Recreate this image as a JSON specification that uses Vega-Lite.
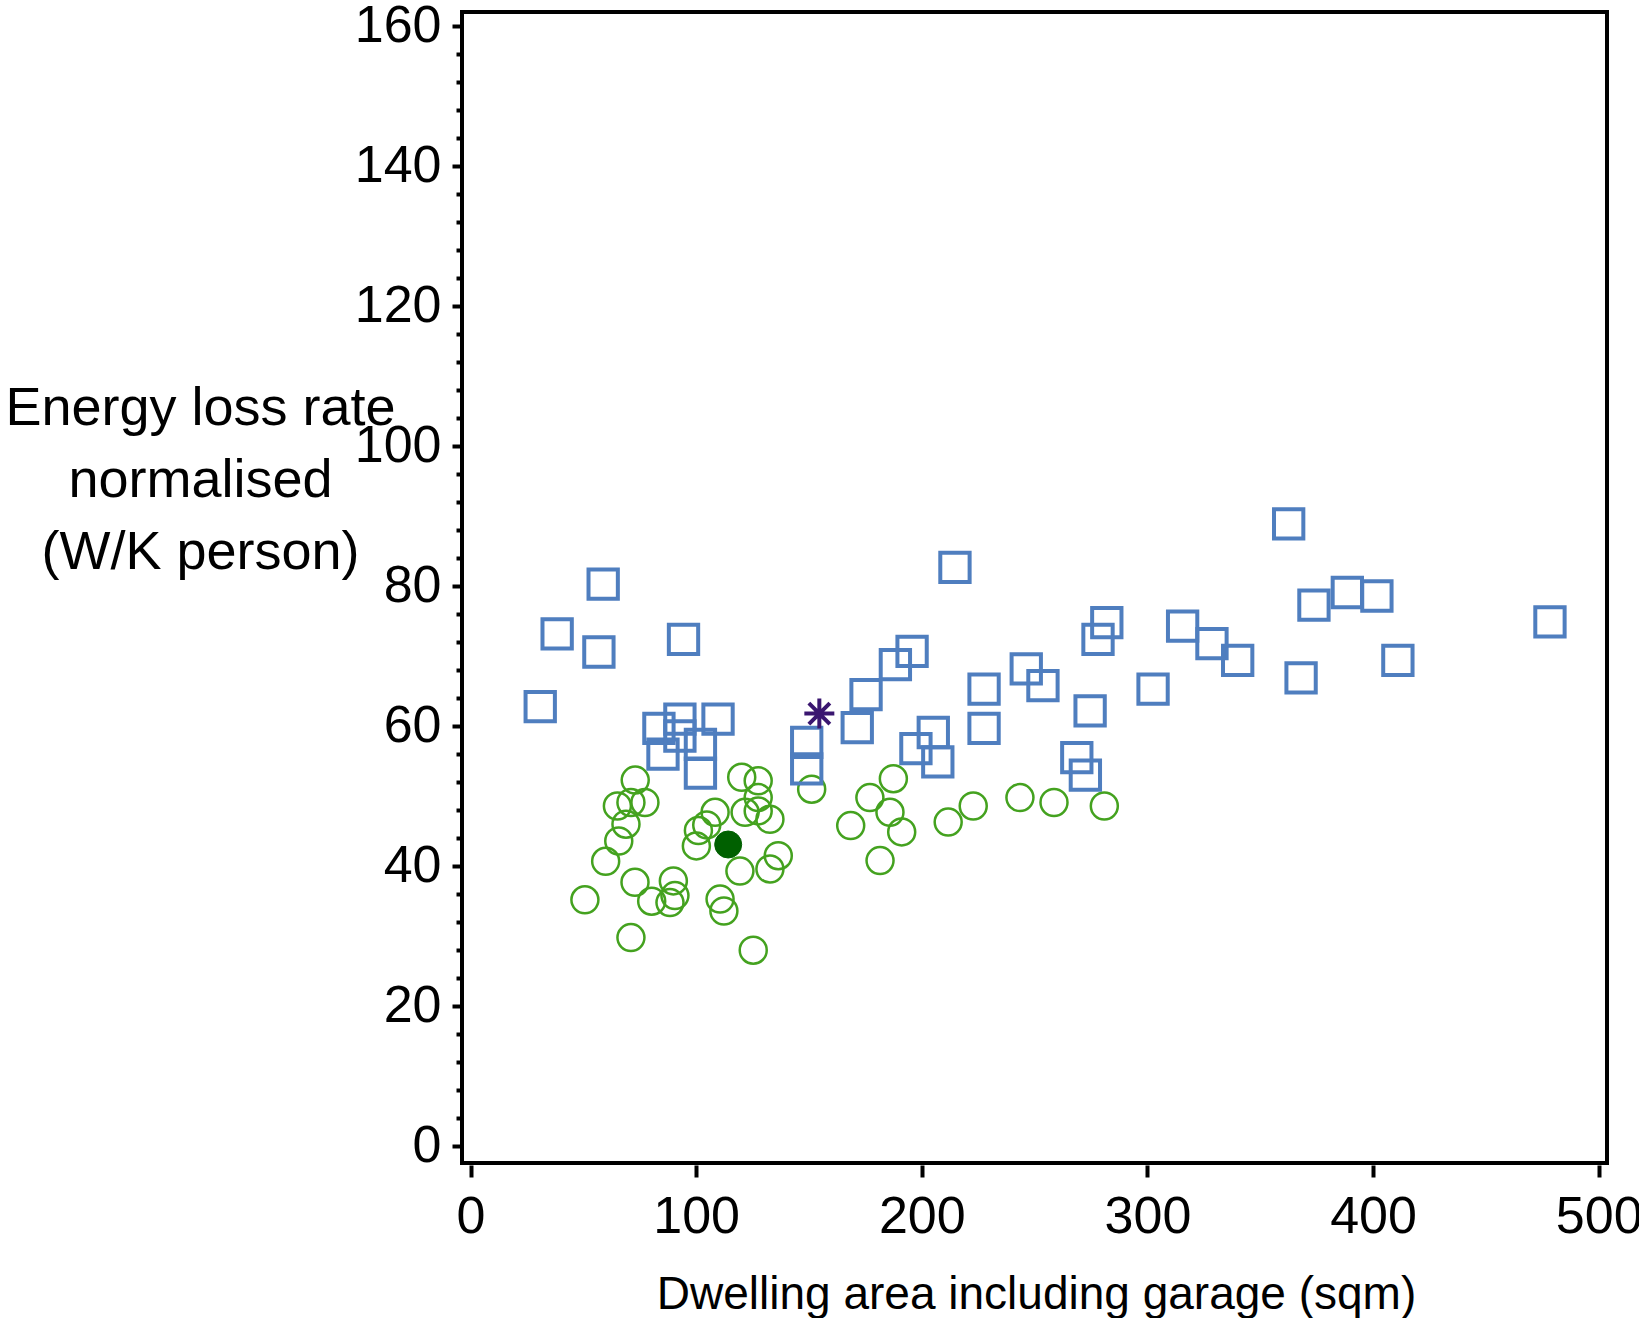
{
  "$schema": "https://vega.github.io/schema/vega-lite/v6.json",
  "autosize": {"type": "none"},
  "width": 1145,
  "height": 1151,
  "padding": {"left": 462, "top": 12, "right": 32, "bottom": 155},
  "background": "white",
  "config": {
    "font": "Liberation Sans",
    "view": {"stroke": "black", "strokeWidth": 4}
  },
  "datasets": {
    "squares": [
      {"area": 30.9, "loss": 62.7}, {"area": 38.4, "loss": 73.1}, {"area": 58.8, "loss": 80.2},
      {"area": 56.9, "loss": 70.5}, {"area": 94.4, "loss": 72.3}, {"area": 83.5, "loss": 59.6},
      {"area": 85.3, "loss": 55.9}, {"area": 92.8, "loss": 60.9}, {"area": 92.8, "loss": 58.5},
      {"area": 101.9, "loss": 57.3}, {"area": 101.9, "loss": 53.2}, {"area": 109.7, "loss": 60.9},
      {"area": 149.0, "loss": 57.6}, {"area": 149.0, "loss": 53.8}, {"area": 171.4, "loss": 59.7},
      {"area": 175.3, "loss": 64.4}, {"area": 188.3, "loss": 68.7}, {"area": 195.7, "loss": 70.6},
      {"area": 197.4, "loss": 56.7}, {"area": 205.1, "loss": 59.0}, {"area": 207.1, "loss": 54.8},
      {"area": 214.7, "loss": 82.6}, {"area": 227.6, "loss": 65.2}, {"area": 227.6, "loss": 59.6},
      {"area": 246.3, "loss": 68.1}, {"area": 253.7, "loss": 65.7}, {"area": 268.7, "loss": 55.4},
      {"area": 272.5, "loss": 52.9}, {"area": 274.6, "loss": 62.1}, {"area": 278.1, "loss": 72.3},
      {"area": 282.0, "loss": 74.7}, {"area": 302.5, "loss": 65.2}, {"area": 315.6, "loss": 74.2},
      {"area": 328.6, "loss": 71.7}, {"area": 340.0, "loss": 69.3}, {"area": 362.6, "loss": 88.8},
      {"area": 368.1, "loss": 66.8}, {"area": 373.8, "loss": 77.2}, {"area": 388.6, "loss": 79.0},
      {"area": 401.7, "loss": 78.5}, {"area": 411.0, "loss": 69.3}, {"area": 478.4, "loss": 74.8}
    ],
    "circles": [
      {"area": 73.0, "loss": 52.2}, {"area": 65.1, "loss": 48.5}, {"area": 71.1, "loss": 49.0},
      {"area": 77.3, "loss": 49.0}, {"area": 68.9, "loss": 45.9}, {"area": 65.7, "loss": 43.5},
      {"area": 59.9, "loss": 40.6}, {"area": 50.7, "loss": 35.1}, {"area": 72.9, "loss": 37.6},
      {"area": 80.3, "loss": 34.9}, {"area": 89.9, "loss": 37.8}, {"area": 90.6, "loss": 35.7},
      {"area": 88.4, "loss": 34.7}, {"area": 71.1, "loss": 29.7}, {"area": 125.3, "loss": 27.9},
      {"area": 110.6, "loss": 35.2}, {"area": 112.3, "loss": 33.5}, {"area": 101.0, "loss": 45.0},
      {"area": 100.1, "loss": 42.8}, {"area": 104.7, "loss": 45.8}, {"area": 108.4, "loss": 47.6},
      {"area": 120.2, "loss": 52.6}, {"area": 127.5, "loss": 52.1}, {"area": 127.5, "loss": 49.7},
      {"area": 121.7, "loss": 47.6}, {"area": 127.5, "loss": 47.8}, {"area": 132.7, "loss": 46.6},
      {"area": 136.4, "loss": 41.4}, {"area": 132.7, "loss": 39.5}, {"area": 119.4, "loss": 39.2},
      {"area": 151.2, "loss": 50.9}, {"area": 187.4, "loss": 52.4}, {"area": 177.0, "loss": 49.7},
      {"area": 185.9, "loss": 47.6}, {"area": 168.5, "loss": 45.7}, {"area": 181.5, "loss": 40.7},
      {"area": 191.1, "loss": 44.8}, {"area": 211.7, "loss": 46.2}, {"area": 222.8, "loss": 48.5},
      {"area": 243.5, "loss": 49.7}, {"area": 258.6, "loss": 49.0}, {"area": 280.9, "loss": 48.5}
    ],
    "filled": [{"area": 114.2, "loss": 43.0}],
    "star": [{"area": 154.6, "loss": 61.7}]
  },
  "encoding": {
    "x": {
      "field": "area",
      "type": "quantitative",
      "scale": {"domain": [-3.77, 503.68], "nice": false, "zero": false},
      "axis": {
        "values": [0, 100, 200, 300, 400, 500],
        "domain": false,
        "grid": false,
        "offset": 2,
        "ticks": true,
        "tickSize": 12,
        "tickWidth": 4,
        "tickColor": "black",
        "labelFontSize": 52,
        "labelColor": "black",
        "labelPadding": 14,
        "labelFlush": false,
        "labelOverlap": false,
        "labelBound": false,
        "title": "Dwelling area including garage (sqm)",
        "titleFontSize": 46,
        "titleFontWeight": "normal",
        "titleColor": "black",
        "titleX": 574,
        "titleY": 143,
        "titleAlign": "center",
        "titleBaseline": "alphabetic"
      }
    },
    "y": {
      "field": "loss",
      "type": "quantitative",
      "scale": {"domain": [-2.5, 161.93], "nice": false, "zero": false},
      "axis": {
        "values": [0, 4, 8, 12, 16, 20, 24, 28, 32, 36, 40, 44, 48, 52, 56, 60, 64, 68, 72, 76, 80, 84, 88, 92, 96, 100, 104, 108, 112, 116, 120, 124, 128, 132, 136, 140, 144, 148, 152, 156, 160],
        "labelExpr": "datum.value % 20 === 0 ? datum.label : ''",
        "domain": false,
        "grid": false,
        "tickSize": {"condition": {"test": "datum.value % 20 === 0", "value": 10}, "value": 6},
        "tickWidth": 4,
        "tickColor": "black",
        "labelFontSize": 52,
        "labelColor": "black",
        "labelPadding": 11,
        "labelFlush": false,
        "labelOverlap": false,
        "labelBound": false,
        "title": ["Energy loss rate", "normalised", "(W/K person)"],
        "titleFontSize": 54,
        "titleFontWeight": "normal",
        "titleColor": "black",
        "titleAngle": 0,
        "titleX": -262,
        "titleY": 412,
        "titleAlign": "center",
        "titleBaseline": "alphabetic",
        "titleLineHeight": 72
      }
    }
  },
  "layer": [
    {
      "data": {"name": "circles"},
      "mark": {"type": "point", "shape": "circle", "filled": false, "size": 729, "stroke": "#44a21f", "strokeWidth": 2.5, "opacity": 1}
    },
    {
      "data": {"name": "squares"},
      "mark": {"type": "point", "shape": "square", "filled": false, "size": 860, "stroke": "#4f7ebf", "strokeWidth": 4, "opacity": 1}
    },
    {
      "data": {"name": "filled"},
      "mark": {"type": "point", "shape": "circle", "filled": true, "size": 729, "fill": "#006000", "stroke": "#006000", "strokeWidth": 1, "opacity": 1}
    },
    {
      "data": {"name": "star"},
      "mark": {"type": "point", "shape": "M0,-1L0,1M-1,0L1,0M-0.7,-0.7L0.7,0.7M-0.7,0.7L0.7,-0.7", "filled": false, "size": 900, "stroke": "#3a1670", "strokeWidth": 4, "opacity": 1}
    }
  ]
}
